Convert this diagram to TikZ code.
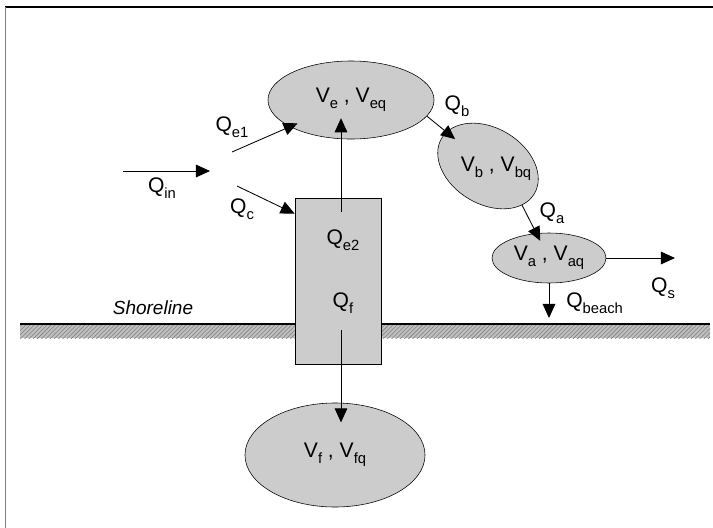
\documentclass[tikz,border=0pt]{standalone}
\usepackage{fontspec}
\setmainfont{Liberation Sans}
\usetikzlibrary{arrows.meta,shapes.geometric,patterns,calc}

\newcommand{\dn}[1]{\raisebox{-0.5ex}{\fontsize{10.5}{12}\selectfont #1}}

\tikzset{
  pool/.style={ellipse,draw,fill=black!20,inner sep=0pt,font=\fontsize{15}{17}\selectfont},
  flow/.style={-{Triangle[length=10pt,width=9pt]},line width=0.6pt},
  lbl/.style={font=\fontsize{15}{17}\selectfont,inner sep=0pt},
}

\begin{document}
\begin{tikzpicture}[x=0.025cm,y=-0.025cm]
  \useasboundingbox (0,0) rectangle (713,528);
  % marco
  \draw[line width=1.4pt] (5,7) -- (713,7);
  \draw[gray,line width=0.5pt] (5,7) -- (5,528);

  % linea de costa
  \fill[black!25] (20,324) rectangle (710,338);
  \fill[pattern=north east lines,pattern color=gray] (20,324) rectangle (710,338);
  \draw[line width=0.8pt] (20,324) -- (710,324);
  \node[lbl,font=\fontsize{13.5}{15}\selectfont\itshape] (shore) at (153,308) {Shoreline};

  % volumenes
  \node[pool,minimum width=4.15cm,minimum height=1.95cm] (ve) at (351,100) {V\dn{e} , V\dn{eq}};
  \node[pool,minimum width=2.7cm,minimum height=1.9cm,rotate=-31] (vb) at (488,166) {};
  \node[lbl] (vbtxt) at (496,169) {V\dn{b} , V\dn{bq}};
  \node[pool,minimum width=2.85cm,minimum height=1.25cm] (va) at (549,258) {V\dn{a} , V\dn{aq}};
  \node[pool,minimum width=4.5cm,minimum height=2.6cm] (vf) at (335,455) {V\dn{f} , V\dn{fq}};

  % caja de mezcla
  \node[draw,fill=black!20,minimum width=2.15cm,minimum height=4.15cm,inner sep=0pt] (mix) at (338,281) {};
  \node[lbl] (qe2) at (343,240) {Q\dn{e2}};
  \node[lbl] (qf) at (343,303) {Q\dn{f}};

  % entradas
  \coordinate (inA) at (123,171);
  \coordinate (inB) at (210,171);
  \draw[flow] (inA) -- (inB);
  \node[lbl] (qin) at (162,188) {Q\dn{in}};

  \coordinate (e1A) at (232,152);
  \draw[flow,shorten >=-6pt] (e1A) -- (ve);
  \node[lbl] (qe1) at (232,127) {Q\dn{e1}};

  \coordinate (cA) at (237,186);
  \coordinate (cB) at ($(mix.north west)+(0,16)$);
  \draw[flow] (cA) -- (cB);
  \node[lbl] (qc) at (242,209) {Q\dn{c}};

  \coordinate (e2A) at ($(mix.north)+(3,14)$);
  \draw[flow,shorten >=-15pt] (e2A) -- (e2A |- ve.south);
  \coordinate (fA) at ($(mix.south)+(3,-34)$);
  \draw[flow,shorten >=-14pt] (fA) -- (fA |- vf.north);

  % cadena de salida
  \draw[flow,shorten >=-8pt] (ve.-12) -- (vb);
  \node[lbl] (qb) at (457,106) {Q\dn{b}};
  \draw[flow,shorten >=-6pt] (vb.-18) -- (va);
  \node[lbl] (qa) at (552,213) {Q\dn{a}};

  \coordinate (sB) at (675,258);
  \draw[flow] (va.east) -- (sB);
  \node[lbl] (qs) at (663,288) {Q\dn{s}};
  \coordinate (bB) at (549,318);
  \draw[flow] (va.south) -- (bB);
  \node[lbl,anchor=west] (qbeach) at (566,303) {Q\dn{beach}};
\end{tikzpicture}
\end{document}
